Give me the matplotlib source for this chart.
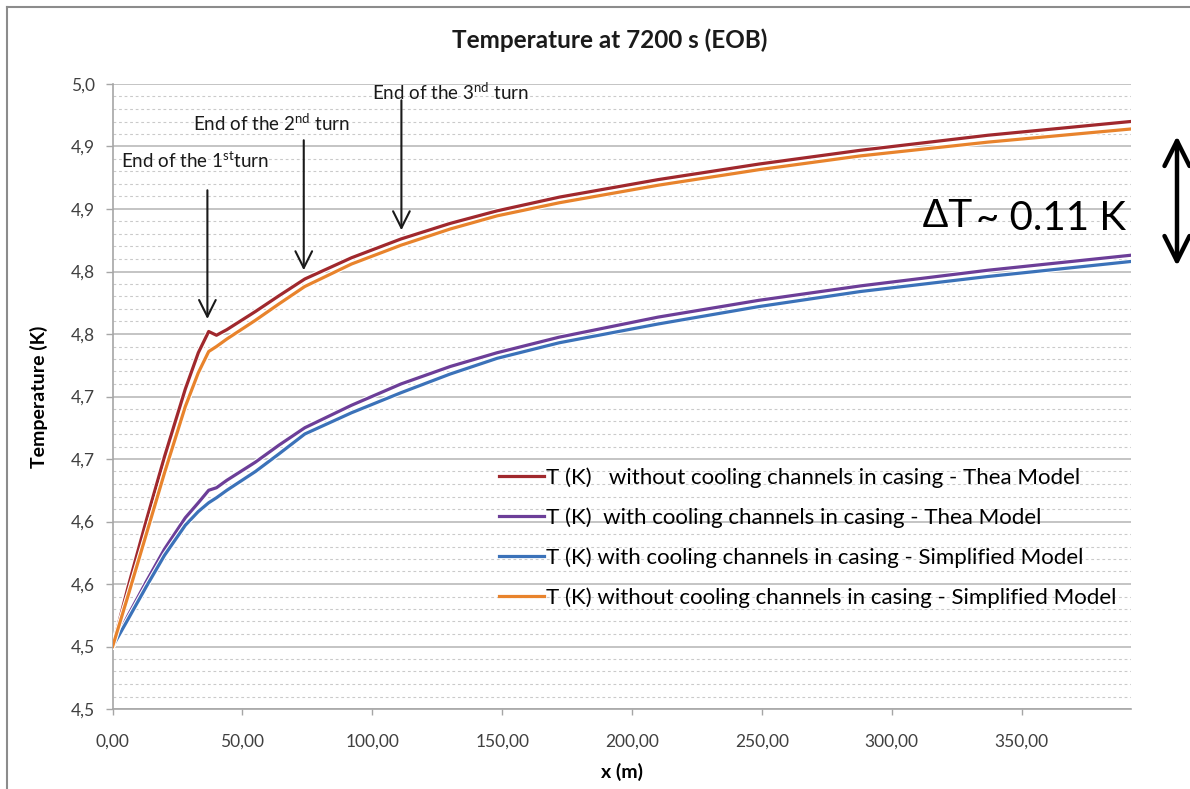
import matplotlib
matplotlib.use("Agg")
import matplotlib.pyplot as plt
import matplotlib.patheffects as pe
from matplotlib.lines import Line2D
from matplotlib.patches import FancyArrowPatch
from matplotlib.ticker import FixedLocator, MultipleLocator, FuncFormatter

plt.rcParams["font.family"] = ["Lato", "DejaVu Sans"]
plt.rcParams["mathtext.fontset"] = "custom"
plt.rcParams["mathtext.rm"] = "Lato"

# ── data: temperature along the conductor (m) ───────────────────────────────
x_m = [0, 6, 13, 20, 28, 33, 37, 40, 44, 55, 64, 74, 92, 111, 130, 148, 172,
       210, 249, 288, 337, 392]

t_thea_nocool = [4.500, 4.548, 4.601, 4.652, 4.706, 4.735, 4.752, 4.749, 4.7535,
                 4.768, 4.7805, 4.794, 4.811, 4.826, 4.8385, 4.8485, 4.8595,
                 4.8735, 4.886, 4.897, 4.909, 4.920]
t_thea_cool = [4.500, 4.525, 4.552, 4.578, 4.603, 4.615, 4.625, 4.627, 4.633,
               4.6475, 4.661, 4.675, 4.693, 4.710, 4.724, 4.735, 4.7475, 4.7635,
               4.777, 4.7885, 4.801, 4.813]
t_simp_cool = [4.500, 4.522, 4.548, 4.573, 4.597, 4.608, 4.615, 4.619, 4.625,
               4.640, 4.654, 4.670, 4.687, 4.703, 4.718, 4.7305, 4.743, 4.758,
               4.772, 4.784, 4.796, 4.808]
t_simp_nocool = [4.500, 4.541, 4.590, 4.639, 4.692, 4.719, 4.736, 4.740, 4.746,
                 4.761, 4.774, 4.788, 4.806, 4.821, 4.834, 4.8445, 4.855, 4.869,
                 4.8815, 4.8925, 4.9035, 4.914]

labels = [
    "T (K)   without cooling channels in casing - Thea Model",
    "T (K)  with cooling channels in casing - Thea Model",
    "T (K) with cooling channels in casing - Simplified Model",
    "T (K) without cooling channels in casing - Simplified Model",
]
colors = ["#A0282D", "#6C3E98", "#3B72B9", "#E8832C"]

# turn ends: x position, arrow tail / head temperature
turn_x = [36.5, 73.6, 111.2]
turn_tail = [4.865, 4.905, 4.937]
turn_head = [4.762, 4.801, 4.833]
turn_text = ["End of the 1$^{\\mathrm{st}}$turn",
             "End of the 2$^{\\mathrm{nd}}$ turn",
             "End of the 3$^{\\mathrm{nd}}$ turn"]

y_ticks = [4.45, 4.50, 4.55, 4.60, 4.65, 4.70, 4.75, 4.80, 4.85, 4.90, 4.95]
x_ticks = [0, 50, 100, 150, 200, 250, 300, 350]

W, H = 1190, 789
fig = plt.figure(figsize=(W / 100, H / 100), dpi=100)

def px(x, y):
    return x / W, 1 - y / H

left, right, top, bottom = 112.6, 1130.7, 84.0, 709.0
ax = fig.add_axes([left / W, 1 - bottom / H, (right - left) / W, (bottom - top) / H])

series = [t_thea_nocool, t_thea_cool, t_simp_cool, t_simp_nocool]
handles = []
for yv, c in zip(series, colors):
    ax.plot(x_m, yv, color=c, lw=2.3, solid_joinstyle="round", zorder=3,
            path_effects=[pe.Stroke(linewidth=3.8, foreground="white"), pe.Normal()])
    handles.append(Line2D([], [], color=c, lw=2.3))

ax.set_xlim(0, 392)
ax.set_ylim(4.45, 4.95)
ax.yaxis.set_major_locator(FixedLocator(y_ticks))
ax.yaxis.set_minor_locator(MultipleLocator(0.01))
ax.xaxis.set_major_locator(FixedLocator(x_ticks))
ax.yaxis.set_major_formatter(FuncFormatter(lambda v, p: f"{v + 1e-9:.1f}".replace(".", ",")))
ax.xaxis.set_major_formatter(FuncFormatter(lambda v, p: f"{v:.2f}".replace(".", ",")))

ax.grid(True, which="major", axis="y", color="#BFBFBF", lw=1.3, zorder=0)
ax.grid(True, which="minor", axis="y", color="#CACACA", lw=0.8, ls=(0, (2.5, 2.5)), zorder=0)
for s in ["top", "right"]:
    ax.spines[s].set_visible(False)
for s in ["left", "bottom"]:
    ax.spines[s].set_color("#A6A6A6")
    ax.spines[s].set_linewidth(1.2)
ax.tick_params(axis="y", which="major", length=5, width=1, color="#A6A6A6",
               labelsize=12.5, labelcolor="#404040", pad=8)
ax.tick_params(axis="y", which="minor", length=0)
ax.tick_params(axis="x", length=4, width=1, color="#A6A6A6",
               labelsize=12.5, labelcolor="#404040", pad=14)

ax.set_xlabel("x (m)", fontsize=14, fontweight="bold", labelpad=9)
ax.set_ylabel("Temperature (K)", fontsize=14, fontweight="bold", labelpad=16)
fig.text(*px(610, 40), "Temperature at 7200 s (EOB)", fontsize=17.5, fontweight="bold",
         ha="center", va="center", color="#1A1A1A")

# turn markers
text_pos = [(121, 161), (193, 123), (372, 92)]
for xt, yt, yh, txt, (tx, ty) in zip(turn_x, turn_tail, turn_head, turn_text, text_pos):
    ax.annotate("", xy=(xt, yh), xytext=(xt, yt),
                arrowprops=dict(arrowstyle="->,head_length=0.8,head_width=0.4",
                                mutation_scale=15, color="#1A1A1A", lw=1.5,
                                shrinkA=0, shrinkB=0))
    fig.text(*px(tx, ty), txt, fontsize=13.5, ha="left", va="center", color="#1A1A1A")

ax.legend(handles, labels, loc="upper left", bbox_to_anchor=px(488, 456),
          bbox_transform=fig.transFigure, frameon=False, fontsize=16,
          handlelength=2.0, handletextpad=0.1, labelspacing=0.88, borderpad=0)

# temperature gap annotation
fig.text(*px(922, 216), "\u0394T", fontsize=29, family=["Liberation Sans", "DejaVu Sans"],
         ha="left", va="center", color="black")
fig.text(*px(976, 219), "~ 0.11 K", fontsize=29, ha="left", va="center", color="black")
fig.add_artist(FancyArrowPatch(
    px(1177, 136), px(1177, 266), transform=fig.transFigure,
    arrowstyle="<->,head_length=0.9,head_width=0.45", mutation_scale=20,
    color="black", lw=3.2, shrinkA=0, shrinkB=0))

# chart frame
fig.add_artist(Line2D([7 / W, 7 / W], [0, 1 - 7 / H], transform=fig.transFigure,
                      color="#8C8C8C", lw=1.5))
fig.add_artist(Line2D([7 / W, 1], [1 - 7 / H, 1 - 7 / H], transform=fig.transFigure,
                      color="#8C8C8C", lw=1.5))

fig.savefig("out.png", dpi=100)
